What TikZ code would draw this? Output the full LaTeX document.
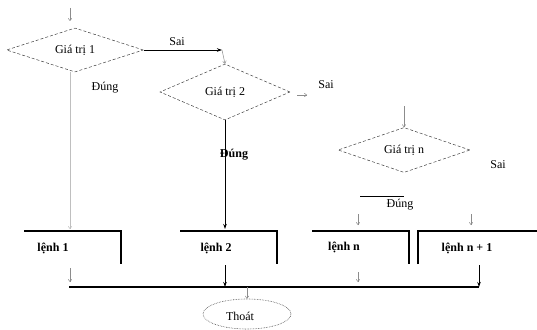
\documentclass[tikz,border=0pt]{standalone}
\usepackage{fontspec}
\setmainfont{Liberation Serif}
\usetikzlibrary{shapes.geometric,arrows.meta}
\begin{document}
\begin{tikzpicture}[x=1pt,y=-1pt,font=\fontsize{12}{13}\selectfont,
  dia/.style={draw=black!75,densely dashed,line width=0.5pt,diamond,inner sep=0pt,aspect=3},
  blk/.style={draw=black,line width=1pt,-{Stealth[length=5pt,width=3.5pt]}},
  gry/.style={draw=black!45,line width=0.5pt,-{To[length=3pt,width=4pt]}},
  box/.style={draw=black,line width=1.1pt},
  lbl/.style={inner sep=0pt},
  cmd/.style={inner sep=0pt,font=\fontsize{12}{13}\selectfont\bfseries}]
\useasboundingbox (0,0) rectangle (537,329);
% decisions
\node[dia,minimum width=137pt,minimum height=44pt] (d1) at (75,50) {Giá trị 1};
\node[dia,minimum width=130pt,minimum height=56pt] (d2) at (225,92) {Giá trị 2};
\node[dia,minimum width=132pt,minimum height=45pt] (dn) at (404,150) {Giá trị n};
% coordinates
\coordinate (in1a) at (70,8);  \coordinate (in1b) at (70,21);
\coordinate (s1) at (222,50);
\coordinate (s2a) at (297,95); \coordinate (s2b) at (307,95);
\coordinate (ina) at (404,106);
\coordinate (dua) at (360,196); \coordinate (dub) at (404,196);
% statement boxes
\coordinate (b1l) at (24,231); \coordinate (b1r) at (121,231); \coordinate (b1d) at (121,264);
\coordinate (b2l) at (180,231); \coordinate (b2r) at (277,231); \coordinate (b2d) at (277,264);
\coordinate (bnl) at (312,231); \coordinate (bnr) at (409,231); \coordinate (bnd) at (409,264);
\coordinate (bml) at (418,264); \coordinate (bmt) at (418,231); \coordinate (bmr) at (537,231);
\draw[box] (b1l) -- (b1r) -- (b1d);
\draw[box] (b2l) -- (b2r) -- (b2d);
\draw[box] (bnl) -- (bnr) -- (bnd);
\draw[box] (bml) -- (bmt) -- (bmr);
\node[cmd] (t1) at (53,248) {lệnh 1};
\node[cmd] (t2) at (216,248) {lệnh 2};
\node[cmd] (tn) at (344,247) {lệnh n};
\node[cmd] (tm) at (467,248) {lệnh n + 1};
% entry arrows
\coordinate (e1) at (70,229);
\coordinate (e2) at (225,229);
\coordinate (ena) at (358,214); \coordinate (enb) at (358,225);
\coordinate (ema) at (471,214); \coordinate (emb) at (471,225);
% exit
\coordinate (x1a) at (70,268); \coordinate (x1b) at (70,282);
\coordinate (x2a) at (225,265); \coordinate (x2b) at (225,287);
\coordinate (xna) at (358,272); \coordinate (xnb) at (358,282);
\coordinate (xma) at (479,265); \coordinate (xmb) at (479,287);
\coordinate (hl) at (69,287); \coordinate (hr) at (479,287);
\coordinate (ha) at (247,287);
\node[draw=black!75,densely dotted,line width=0.6pt,ellipse,minimum width=88pt,minimum height=30pt] (end) at (247,314) {};
\node[lbl] (endt) at (240,316) {Thoát};
% connectors
\draw[gry] (in1a) -- (in1b);
\draw[blk,line width=0.7pt] (d1.east) -- (s1);
\draw[gry] (s1) -- (d2.north);
\draw[gry] (s2a) -- (s2b);
\draw[gry] (ina) -- (dn.north);
\draw[black,line width=0.8pt] (dua) -- (dub);
\draw[gry,draw=black!25] (d1.south -| e1) -- (e1);
\draw[blk] (d2.south) -- (e2);
\draw[gry] (ena) -- (enb);
\draw[gry] (ema) -- (emb);
\draw[gry] (x1a) -- (x1b);
\draw[blk] (x2a) -- (x2b);
\draw[gry] (xna) -- (xnb);
\draw[blk] (xma) -- (xmb);
\draw[black,line width=1.1pt] (hl) -- (hr);
\draw[gry] (ha) -- (end.north);
% labels
\node[lbl] (l1) at (177,42) {Sai};
\node[lbl] (l2) at (105,88) {Đúng};
\node[lbl] (l3) at (326,85) {Sai};
\node[lbl,font=\fontsize{12}{13}\selectfont\bfseries] (l4) at (234,155) {Đúng};
\node[lbl] (l5) at (498,165) {Sai};
\node[lbl] (l6) at (400,205) {Đúng};
\end{tikzpicture}
\end{document}
